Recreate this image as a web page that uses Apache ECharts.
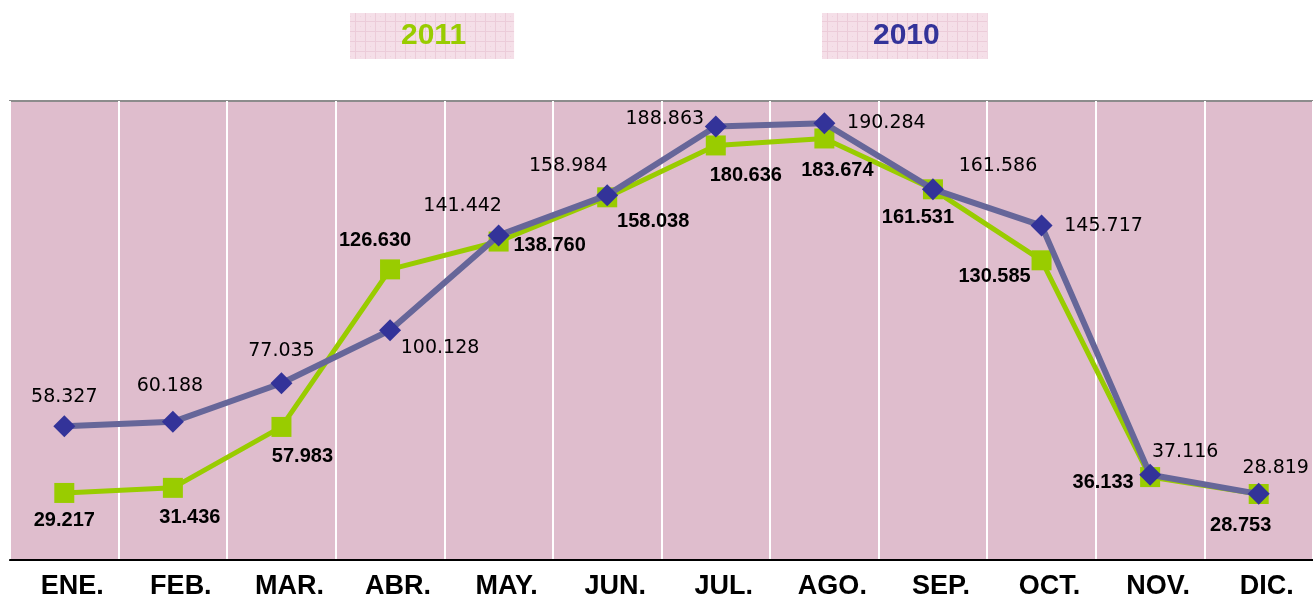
<!DOCTYPE html>
<html>
<head>
<meta charset="utf-8">
<script src="https://cdn.jsdelivr.net/npm/echarts@6/dist/echarts.min.js"></script>
<style>
    html, body { margin: 0; padding: 0; background: #fff; }
    #main { width: 1313px; height: 601px; }
</style>
</head>
<body>
<div id="main"></div>
<script>
// datos
const meses = ['ENE.', 'FEB.', 'MAR.', 'ABR.', 'MAY.', 'JUN.', 'JUL.', 'AGO.', 'SEP.', 'OCT.', 'NOV.', 'DIC.'];
const serie2011 = [29.217, 31.436, 57.983, 126.630, 138.760, 158.038, 180.636, 183.674, 161.531, 130.585, 36.133, 28.753];
const serie2010 = [58.327, 60.188, 77.035, 100.128, 141.442, 158.984, 188.863, 190.284, 161.586, 145.717, 37.116, 28.819];

// desplazamiento de etiquetas (px respecto al punto)
const offs2011 = [[0, 28], [17, 30], [21, 30], [-15, -29], [51, 4], [46, 24], [30, 30], [13, 32], [-15, 28], [-47, 16], [-47, 5], [-18, 31]];
const offs2010 = [[0, -29], [-3, -36], [0, -32], [50, 18], [-36, -29], [-39, -29], [-51, -7], [62, 0], [65, -23], [62, 0], [35, -23], [17, -26]];

const fmt = (v) => v.toFixed(3);

// trama cuadriculada para el fondo de la leyenda
const _pattern = () => {
    let c = document.createElement('canvas');
    c.width = 10;
    c.height = 10;
    let ctx = c.getContext('2d');
    ctx.fillStyle = '#f5dfe8';
    ctx.fillRect(0, 0, 10, 10);
    ctx.fillStyle = '#ecccd9';
    ctx.fillRect(0, 0, 10, 1);
    ctx.fillRect(0, 0, 1, 10);
    ctx.fillStyle = '#efd3de';
    ctx.fillRect(5, 5, 1, 1);
    return { image: c, repeat: 'repeat' };
};

const _items = (vals, offs) => vals.map((v, i) => ({
    value: v,
    label: { offset: offs[i] }
}));

const _legend = (name, left, color) => ({
    data: [{ name: name }],
    left: left,
    top: 13,
    padding: [8, 48, 8, 45],
    itemWidth: 0,
    itemHeight: 0,
    itemGap: 0,
    selectedMode: false,
    backgroundColor: _pattern(),
    textStyle: {
        color: color,
        fontSize: 30,
        fontWeight: 'bold',
        fontFamily: 'Liberation Sans'
    }
});

let chart = echarts.init(document.getElementById('main'));

chart.setOption({
    animation: false,
    legend: [
        _legend('2011', 350, '#99cc00'),
        _legend('2010', 822, '#333399')
    ],
    grid: {
        left: 10,
        right: -2,
        top: 101,
        bottom: 41,
        show: true,
        backgroundColor: '#dfbdcd',
        borderColor: '#8c8c8c',
        borderWidth: 2
    },
    xAxis: {
        type: 'category',
        boundaryGap: true,
        data: meses,
        axisLine: { show: true, lineStyle: { color: '#000', width: 2 } },
        axisTick: { show: false },
        axisLabel: {
            interval: 0,
            margin: 13,
            padding: [0, 0, 0, 16],
            color: '#000',
            fontSize: 27,
            fontWeight: 'bold',
            fontFamily: 'Liberation Sans'
        },
        splitLine: { show: true, interval: 0, lineStyle: { color: '#ffffff', width: 2 } }
    },
    yAxis: {
        type: 'value',
        min: 0,
        max: 200,
        show: false,
        splitLine: { show: false }
    },
    series: [{
        name: '2011',
        type: 'line',
        data: _items(serie2011, offs2011),
        symbol: 'rect',
        symbolSize: 20,
        lineStyle: { color: '#99cc00', width: 5 },
        itemStyle: { color: '#99cc00' },
        label: {
            show: true,
            position: 'inside',
            formatter: (p) => fmt(p.value),
            color: '#000',
            fontSize: 20,
            fontWeight: 'bold',
            fontFamily: 'Liberation Sans'
        },
        z: 2
    }, {
        name: '2010',
        type: 'line',
        data: _items(serie2010, offs2010),
        symbol: 'diamond',
        symbolSize: 22,
        lineStyle: { color: '#666699', width: 6 },
        itemStyle: { color: '#333399' },
        label: {
            show: true,
            position: 'inside',
            formatter: (p) => fmt(p.value),
            color: '#000',
            fontSize: 19,
            fontFamily: 'DejaVu Sans'
        },
        z: 3
    }]
});
</script>
</body>
</html>
